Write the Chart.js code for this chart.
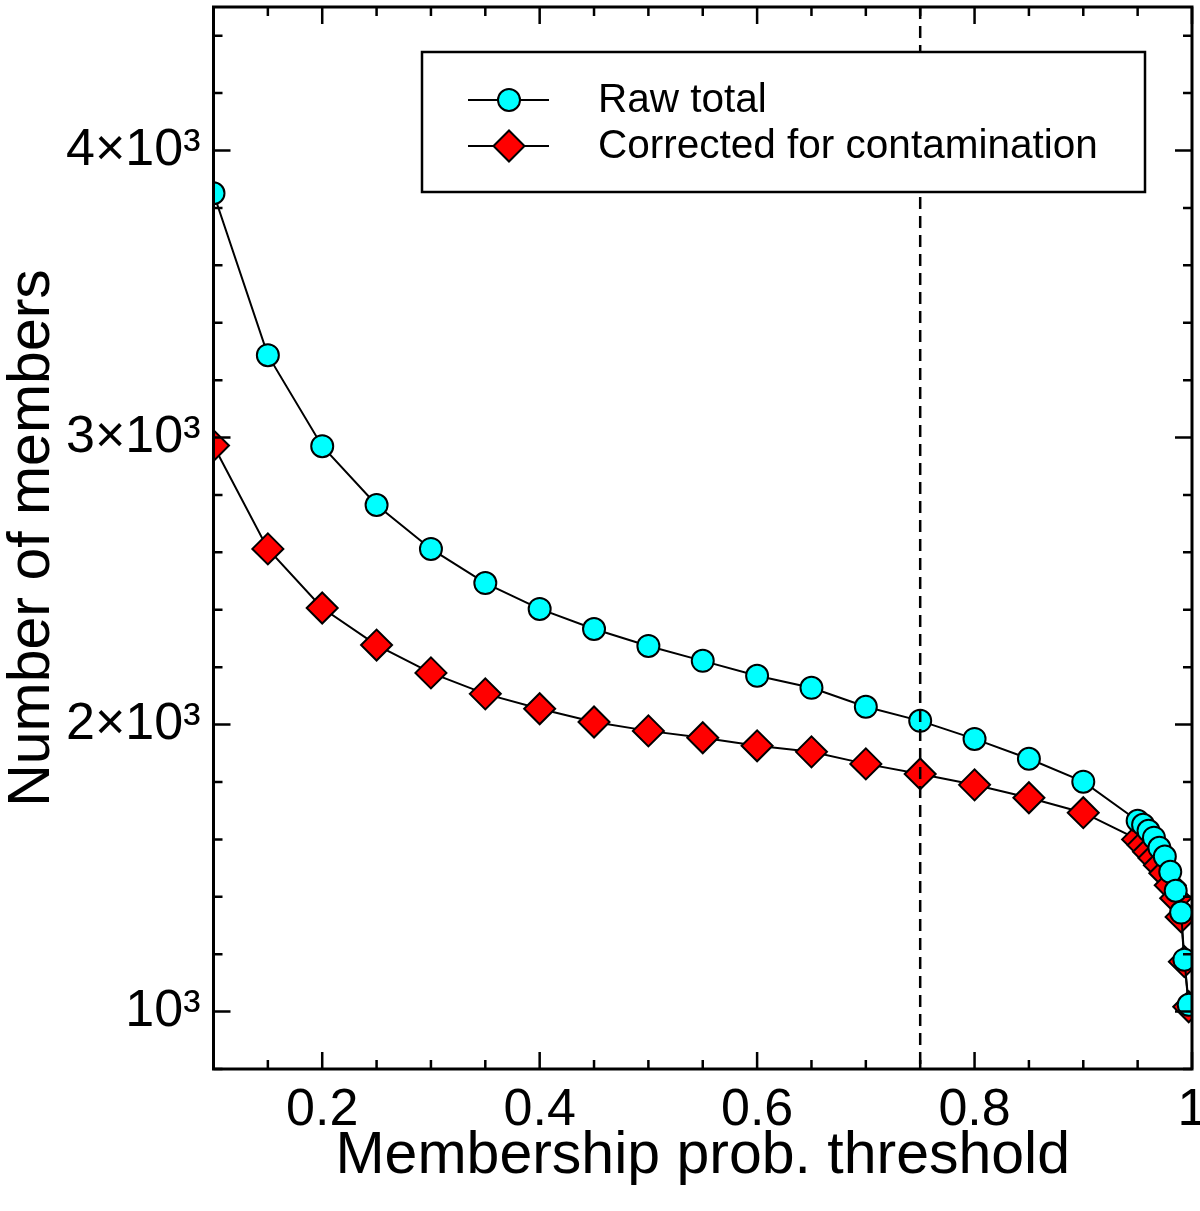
<!DOCTYPE html>
<html>
<head>
<meta charset="utf-8">
<script src="https://cdn.jsdelivr.net/npm/chart.js@4.4.1/dist/chart.umd.min.js"></script>
<style>
  html, body { margin: 0; padding: 0; background: #fff; }
  #wrap { width: 1200px; height: 1211px; position: relative; }
</style>
</head>
<body>
<div id="wrap"><canvas id="c"></canvas></div>
<script>
// ---- data ----
const thresholds = [0.10, 0.15, 0.20, 0.25, 0.30, 0.35, 0.40, 0.45, 0.50, 0.55, 0.60, 0.65, 0.70, 0.75, 0.80, 0.85, 0.90,
                    0.95, 0.955, 0.96, 0.965, 0.97, 0.975, 0.98, 0.985, 0.99, 0.993, 0.997];
const rawTotal = [3851, 3287, 2970, 2765, 2612, 2493, 2403, 2333, 2274, 2222, 2170, 2128, 2062, 2013, 1950, 1881, 1801,
                  1665, 1651, 1630, 1606, 1571, 1540, 1487, 1421, 1345, 1181, 1024];
const corrected = [2972, 2612, 2406, 2277, 2180, 2107, 2055, 2009, 1978, 1954, 1926, 1905, 1863, 1828, 1790, 1745, 1693,
                   1600, 1580, 1557, 1535, 1510, 1482, 1440, 1395, 1330, 1174, 1017];
const seriesNames = ['Raw total', 'Corrected for contamination'];
const xMajorTicks = [0.2, 0.4, 0.6, 0.8, 1.0];
const xTickLabels = ['0.2', '0.4', '0.6', '0.8', '1'];
const yMajorTicks = [1000, 2000, 3000, 4000];
const yTickLabels = ['10\u00B3', '2\u00D710\u00B3', '3\u00D710\u00B3', '4\u00D710\u00B3'];
const xRange = [0.1, 1.0];
const yRange = [800, 4500];
const xMinorStep = 0.05;
const yMinorStep = 200;
const cutoff = 0.75;
const xTitle = 'Membership prob. threshold';
const yTitle = 'Number of members';

const FONT = '"Liberation Sans", Arial, Helvetica, sans-serif';

function toPoints(xs, ys) { return xs.map((x, i) => ({ x: x, y: ys[i] })); }

function makeTicks(min, max, step) {
  const out = [];
  const n = Math.round((max - min) / step);
  for (let i = 0; i <= n; i++) out.push(+(min + i * step).toFixed(6));
  return out;
}

function zeroPad(s) { s.paddingTop = 0; s.paddingBottom = 0; s.paddingLeft = 0; s.paddingRight = 0; }

const framePlugin = {
  id: 'frame',
  afterDatasetsDraw(chart) {
    const { ctx, chartArea: a, scales } = chart;
    const xs = scales.x, ys = scales.y;
    ctx.save();
    // dashed cutoff line
    const xc = xs.getPixelForValue(cutoff);
    ctx.beginPath();
    ctx.setLineDash([12, 7]);
    ctx.lineWidth = 2.5;
    ctx.strokeStyle = '#000';
    ctx.moveTo(xc, a.top);
    ctx.lineTo(xc, a.bottom);
    ctx.stroke();
    ctx.setLineDash([]);

    // ticks (inward, mirrored)
    ctx.lineWidth = 2.5;
    const major = 17, minor = 9;
    makeTicks(xRange[0], xRange[1], xMinorStep).forEach(v => {
      const isMajor = xMajorTicks.some(t => Math.abs(t - v) < 1e-6);
      const L = isMajor ? major : minor;
      const px = xs.getPixelForValue(v);
      ctx.beginPath();
      ctx.moveTo(px, a.bottom); ctx.lineTo(px, a.bottom - L);
      ctx.moveTo(px, a.top); ctx.lineTo(px, a.top + L);
      ctx.stroke();
    });
    makeTicks(yRange[0], yRange[1], yMinorStep).forEach(v => {
      const isMajor = yMajorTicks.includes(v);
      const L = isMajor ? major : minor;
      const py = ys.getPixelForValue(v);
      ctx.beginPath();
      ctx.moveTo(a.left, py); ctx.lineTo(a.left + L, py);
      ctx.moveTo(a.right, py); ctx.lineTo(a.right - L, py);
      ctx.stroke();
    });

    // frame
    ctx.lineWidth = 3;
    ctx.strokeRect(a.left, a.top, a.right - a.left, a.bottom - a.top);

    // legend box
    const bx = 422, by = 52, bw = 723, bh = 140;
    ctx.fillStyle = '#fff';
    ctx.fillRect(bx, by, bw, bh);
    ctx.lineWidth = 2.5;
    ctx.strokeRect(bx, by, bw, bh);
    const rows = [100, 146];
    chart.data.datasets.forEach((ds, i) => {
      const yy = rows[i];
      ctx.lineWidth = 2;
      ctx.strokeStyle = '#000';
      ctx.beginPath();
      ctx.moveTo(468, yy); ctx.lineTo(549, yy);
      ctx.stroke();
      ctx.fillStyle = ds.pointBackgroundColor;
      ctx.lineWidth = ds.pointBorderWidth;
      ctx.beginPath();
      if (ds.pointStyle === 'circle') {
        ctx.arc(509, yy, ds.pointRadius, 0, Math.PI * 2);
      } else {
        const r = ds.pointRadius;
        ctx.moveTo(509 - r, yy); ctx.lineTo(509, yy - r); ctx.lineTo(509 + r, yy); ctx.lineTo(509, yy + r); ctx.closePath();
      }
      ctx.fill(); ctx.stroke();
      ctx.fillStyle = '#000';
      ctx.font = '40.5px ' + FONT;
      ctx.textBaseline = 'middle';
      ctx.textAlign = 'left';
      ctx.fillText(ds.label, 598, yy + 1);
    });
    ctx.restore();
  }
};

new Chart(document.getElementById('c'), {
  type: 'line',
  data: {
    datasets: [
      {
        label: seriesNames[0],
        data: toPoints(thresholds, rawTotal),
        borderColor: '#000',
        borderWidth: 2,
        pointStyle: 'circle',
        pointRadius: 11,
        pointBorderWidth: 2,
        pointBackgroundColor: '#00FFFF',
        pointBorderColor: '#000',
        tension: 0,
        clip: 0
      },
      {
        label: seriesNames[1],
        data: toPoints(thresholds, corrected),
        borderColor: '#000',
        borderWidth: 2,
        pointStyle: 'rectRot',
        pointRadius: 15.5,
        pointBorderWidth: 2,
        pointBackgroundColor: '#FF0000',
        pointBorderColor: '#000',
        tension: 0,
        clip: 0
      }
    ]
  },
  options: {
    responsive: true,
    maintainAspectRatio: false,
    animation: false,
    events: [],
    layout: { autoPadding: false, padding: { top: 7, right: 8, left: 0, bottom: 0 } },
    plugins: { legend: { display: false }, tooltip: { enabled: false }, title: { display: false } },
    scales: {
      x: {
        type: 'linear',
        min: xRange[0], max: xRange[1],
        grid: { display: false, drawTicks: false },
        border: { display: false },
        afterBuildTicks: s => { s.ticks = xMajorTicks.map(v => ({ value: v })); },
        afterFit: s => { s.height = 142; zeroPad(s); },
        ticks: {
          color: '#000',
          padding: 16,
          maxRotation: 0,
          minRotation: 0,
          autoSkip: false,
          font: { family: FONT, size: 52, lineHeight: 1 },
          callback: (v) => { const i = xMajorTicks.findIndex(t => Math.abs(t - v) < 1e-6); return i >= 0 ? xTickLabels[i] : ''; }
        },
        title: {
          display: true, text: xTitle, color: '#000',
          font: { family: FONT, size: 59, lineHeight: 1 },
          padding: { top: 0, bottom: 25 }
        }
      },
      y: {
        type: 'linear',
        min: yRange[0], max: yRange[1],
        grid: { display: false, drawTicks: false },
        border: { display: false },
        afterBuildTicks: s => { s.ticks = yMajorTicks.map(v => ({ value: v })); },
        afterFit: s => { s.width = 213.5; zeroPad(s); },
        ticks: {
          color: '#000',
          padding: 13,
          autoSkip: false,
          font: { family: FONT, size: 52, lineHeight: 1 },
          callback: (v) => { const i = yMajorTicks.indexOf(v); return i >= 0 ? yTickLabels[i] : ''; }
        },
        title: {
          display: true, text: yTitle, color: '#000',
          font: { family: FONT, size: 59, lineHeight: 1 },
          padding: { top: 3, bottom: 0 }
        }
      }
    }
  },
  plugins: [framePlugin]
});
</script>
</body>
</html>
